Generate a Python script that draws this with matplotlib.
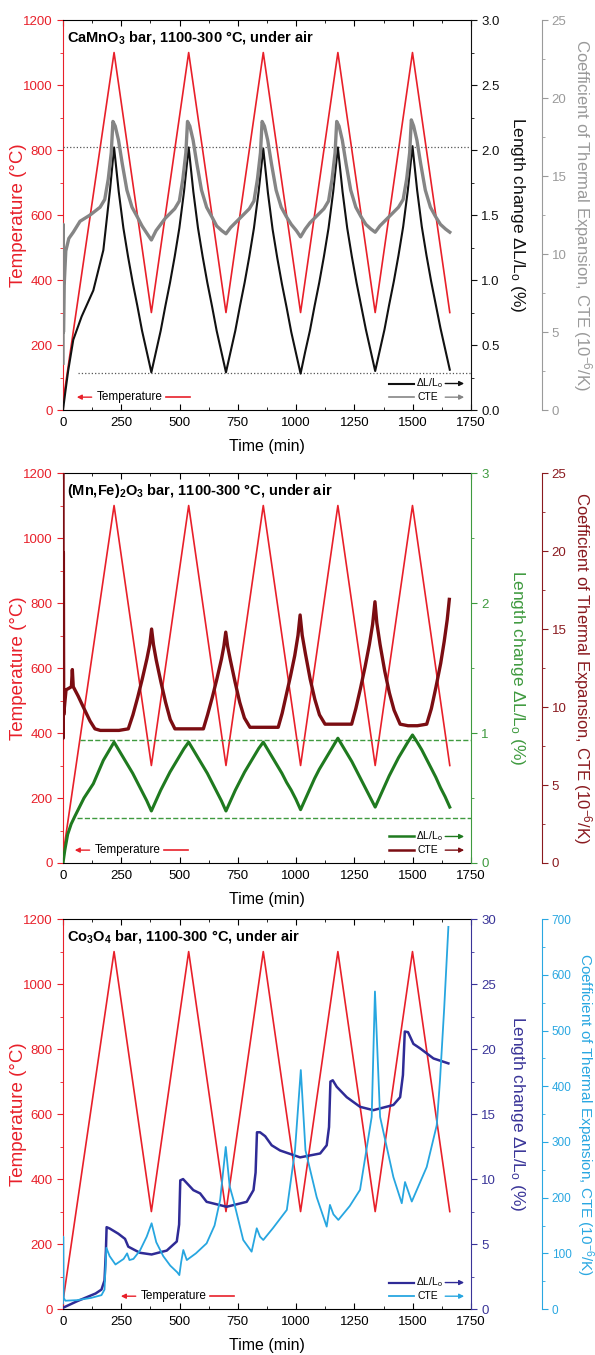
import matplotlib
matplotlib.use('Agg')
import matplotlib.pyplot as plt
from matplotlib.ticker import MultipleLocator, FormatStrFormatter

plt.rcParams['font.family'] = ['Liberation Sans', 'DejaVu Sans']
plt.rcParams['mathtext.fontset'] = 'custom'
plt.rcParams['mathtext.rm'] = 'Liberation Sans'
plt.rcParams['mathtext.it'] = 'Liberation Sans:italic'
plt.rcParams['mathtext.bf'] = 'Liberation Sans:bold'

# ---- temperature programme (same for all three bars) ----
time_T = [0, 219, 379, 539, 699, 859, 1019, 1179, 1339, 1499, 1659]
temp = [25, 1100, 300, 1100, 300, 1100, 300, 1100, 300, 1100, 300]

# common time grid used for the cyclic part of the length-change curves
t_cycle = [239, 259, 279, 299, 319, 339, 359, 379,
           399, 419, 439, 459, 479, 499, 519, 539,
           559, 579, 599, 619, 639, 659, 679, 699,
           719, 739, 759, 779, 799, 819, 839, 859,
           879, 899, 919, 939, 959, 979, 999, 1019,
           1039, 1059, 1079, 1099, 1119, 1139, 1159, 1179,
           1199, 1219, 1239, 1259, 1279, 1299, 1319, 1339,
           1359, 1379, 1399, 1419, 1439, 1459, 1479, 1499,
           1519, 1539, 1559, 1579, 1599, 1619, 1639, 1659]

# ---- CaMnO3 ----
t_dl1 = [0, 10, 22, 44, 80, 130, 173, 202, 219] + t_cycle
dl1 = [0.00, 0.14, 0.30, 0.54, 0.72, 0.92, 1.23, 1.70, 2.02,
       1.68, 1.40, 1.18, 0.98, 0.80, 0.61, 0.45, 0.29,
       0.45, 0.61, 0.80, 0.98, 1.18, 1.40, 1.68, 2.02,
       1.68, 1.40, 1.18, 0.98, 0.80, 0.61, 0.45, 0.29,
       0.45, 0.61, 0.80, 0.98, 1.18, 1.40, 1.68, 2.01,
       1.67, 1.39, 1.17, 0.97, 0.79, 0.60, 0.44, 0.28,
       0.45, 0.61, 0.80, 0.98, 1.18, 1.40, 1.68, 2.02,
       1.68, 1.40, 1.18, 0.98, 0.80, 0.62, 0.46, 0.30,
       0.46, 0.62, 0.81, 0.99, 1.19, 1.41, 1.69, 2.03,
       1.69, 1.41, 1.19, 0.99, 0.81, 0.63, 0.47, 0.31]
t_cte1 = [0, 1, 2, 5, 12, 25, 44, 73, 116, 159, 179, 194, 207, 214,
          224, 238, 254, 274, 296, 318, 339, 361, 379,
          399, 419, 439, 459, 479, 499, 514, 527, 534,
          544, 558, 574, 594, 616, 638, 659, 681, 699,
          719, 739, 759, 779, 799, 819, 834, 847, 854,
          864, 878, 894, 914, 936, 958, 979, 1001, 1019,
          1039, 1059, 1079, 1099, 1119, 1139, 1154, 1167, 1174,
          1184, 1198, 1214, 1234, 1256, 1278, 1299, 1321, 1339,
          1359, 1379, 1399, 1419, 1439, 1459, 1474, 1487, 1494,
          1504, 1518, 1534, 1554, 1576, 1598, 1619, 1641, 1659]
cte1 = [3.0, 11.9, 5.0, 8.0, 10.2, 11.0, 11.4, 12.1, 12.5, 13.0, 13.5, 14.8, 16.5, 18.5,
        18.2, 17.3, 15.8, 14.1, 13.0, 12.4, 11.8, 11.3, 10.9,
        11.5, 11.9, 12.3, 12.6, 12.9, 13.4, 14.8, 16.5, 18.5,
        18.2, 17.3, 15.8, 14.1, 13.0, 12.4, 11.8, 11.5, 11.3,
        11.7, 12.0, 12.3, 12.6, 12.9, 13.4, 14.8, 16.5, 18.5,
        18.2, 17.3, 15.8, 14.1, 13.0, 12.4, 11.9, 11.5, 11.1,
        11.6, 12.0, 12.3, 12.6, 12.9, 13.4, 14.8, 16.5, 18.5,
        18.2, 17.3, 15.8, 14.1, 13.0, 12.4, 11.9, 11.6, 11.4,
        11.8, 12.1, 12.4, 12.7, 13.0, 13.5, 14.8, 16.5, 18.6,
        18.2, 17.3, 15.8, 14.1, 13.0, 12.4, 11.9, 11.6, 11.4]
ref1_hi, ref1_lo = 2.02, 0.285

# ---- (Mn,Fe)2O3 ----
t_dl2 = [0, 8, 20, 35, 51, 90, 130, 173, 219] + t_cycle
dl2 = [0.00, 0.10, 0.22, 0.30, 0.36, 0.50, 0.61, 0.79, 0.93,
       0.87, 0.81, 0.75, 0.69, 0.62, 0.55, 0.48, 0.40,
       0.48, 0.56, 0.63, 0.70, 0.76, 0.82, 0.88, 0.93,
       0.87, 0.81, 0.75, 0.69, 0.62, 0.55, 0.48, 0.40,
       0.48, 0.56, 0.63, 0.70, 0.76, 0.82, 0.88, 0.93,
       0.87, 0.81, 0.75, 0.69, 0.62, 0.56, 0.49, 0.41,
       0.49, 0.57, 0.65, 0.72, 0.78, 0.84, 0.90, 0.96,
       0.90, 0.84, 0.78, 0.71, 0.64, 0.57, 0.50, 0.43,
       0.51, 0.59, 0.67, 0.74, 0.81, 0.87, 0.93, 0.985,
       0.93, 0.87, 0.80, 0.73, 0.66, 0.58, 0.51, 0.43]
t_cte2 = [0, 0.5, 1.5, 3, 8.6, 13, 25, 36, 40, 44, 65, 87, 116, 137, 160, 200, 240, 280,
          300, 320, 340, 360, 372, 380, 388, 400, 420, 440, 460, 480, 520, 560, 602,
          620, 640, 660, 680, 690, 698, 706, 718, 738, 758, 778, 802, 840, 880, 923,
          940, 958, 976, 994, 1008, 1017, 1026, 1040, 1060, 1080, 1100, 1124, 1160, 1200, 1238,
          1256, 1276, 1296, 1314, 1328, 1338, 1346, 1360, 1380, 1400, 1420, 1446, 1480, 1520, 1560,
          1580, 1600, 1620, 1635, 1648, 1657]
cte2 = [30, 8.0, 19.9, 9.5, 10.4, 11.1, 11.2, 11.3, 12.4, 11.3, 10.7, 10.0, 9.1, 8.6, 8.5, 8.5, 8.5, 8.6,
        9.5, 10.6, 11.8, 13.1, 14.0, 15.0, 14.0, 13.0, 11.6, 10.3, 9.2, 8.6, 8.6, 8.6, 8.6,
        9.5, 10.6, 11.8, 13.1, 13.9, 14.8, 13.9, 13.0, 11.6, 10.3, 9.3, 8.7, 8.7, 8.7, 8.7,
        9.6, 10.8, 12.0, 13.3, 14.6, 15.9, 14.6, 13.4, 11.8, 10.5, 9.5, 8.9, 8.9, 8.9, 8.9,
        9.9, 11.2, 12.6, 14.0, 15.3, 16.75, 15.4, 14.0, 12.3, 10.9, 9.8, 8.9, 8.8, 8.8, 8.9,
        9.9, 11.3, 12.8, 14.2, 15.6, 16.9]
ref2_hi, ref2_lo = 0.946, 0.35

# ---- Co3O4 ----
t_dl3 = [0, 30, 60, 100, 140, 165, 178, 184, 187, 200, 237, 266, 280, 330, 380, 445, 488, 498,
         503, 515, 559, 588, 616, 702, 788, 817, 826, 832, 845, 867, 895, 931, 1017, 1103, 1131,
         1141, 1147, 1157, 1174, 1217, 1274, 1331, 1417, 1446, 1458, 1466, 1480, 1503, 1532, 1589, 1653]
dl3 = [0.1, 0.35, 0.6, 0.9, 1.2, 1.5, 2.2, 4.5, 6.3, 6.2, 5.8, 5.4, 4.8, 4.33, 4.2, 4.5, 5.2, 6.5,
       9.9, 10.0, 9.15, 8.9, 8.25, 7.87, 8.25, 9.15, 10.5, 13.6, 13.6, 13.3, 12.6, 12.2, 11.67, 11.97, 12.6,
       14.0, 17.5, 17.6, 17.1, 16.3, 15.56, 15.3, 15.7, 16.3, 18.0, 21.35, 21.3, 20.4, 20.05, 19.28, 18.9]
t_cte3 = [0, 1, 3, 10, 60, 120, 165, 178, 186, 200, 225, 260, 275, 285, 302, 330, 359, 380, 400, 430,
          460, 490, 499, 507, 516, 531, 570, 616, 650, 674, 698, 715, 731, 773, 809, 831, 845, 859, 900, 960,
          995, 1020, 1040, 1088, 1131, 1145, 1160, 1181, 1230, 1274, 1324, 1338, 1360, 1417, 1453, 1467,
          1496, 1560, 1603, 1617, 1635, 1653]
cte3 = [10, 130, 20, 15, 16, 20, 25, 35, 110, 95, 80, 90, 100, 88, 90, 105, 130, 154, 120, 95,
        78, 66, 61, 85, 106, 88, 100, 118, 150, 196, 291, 220, 196, 124, 103, 145, 130, 124, 145, 178,
        285, 429, 285, 201, 148, 187, 170, 160, 185, 214, 345, 570, 345, 237, 190, 228,
        193, 255, 330, 411, 540, 686]

red = '#e8202a'

fig = plt.figure(figsize=(5.95, 13.55), dpi=100)
L, W, H = 0.1059, 0.6857, 0.2878


def make_panel(bottom, title, c_dl, c_cte, dl_lim, dl_major, dl_minor, dl_fmt,
               cte_lim, cte_major, cte_minor, dl_label_color, cte_label_color,
               cte_label_x=1.272, cte_label_size=12, cte_tick_size=9.5):
    ax = fig.add_axes([L, bottom, W, H])
    ax.plot(time_T, temp, color=red, lw=1.2)
    ax.set_xlim(0, 1750)
    ax.set_ylim(0, 1200)
    ax.xaxis.set_major_locator(MultipleLocator(250))
    ax.xaxis.set_minor_locator(MultipleLocator(125))
    ax.yaxis.set_major_locator(MultipleLocator(200))
    ax.yaxis.set_minor_locator(MultipleLocator(100))
    ax.tick_params(axis='x', which='both', direction='in', top=True, labelsize=9.5, pad=5)
    ax.tick_params(axis='x', which='major', length=4)
    ax.tick_params(axis='x', which='minor', length=2)
    ax.tick_params(axis='y', which='both', direction='out', colors=red, labelsize=9.5)
    ax.tick_params(axis='y', which='major', length=4)
    ax.tick_params(axis='y', which='minor', length=2)
    ax.spines['left'].set_color(red)
    ax.spines['right'].set_visible(False)
    ax.set_ylabel('Temperature (°C)', color=red, fontsize=13.5, va='center')
    ax.yaxis.set_label_coords(-0.108, 0.5)
    ax.set_xlabel('Time (min)', fontsize=11.5, labelpad=7)
    ax.text(0.01, 0.978, title, transform=ax.transAxes, fontsize=10.5, fontweight='bold',
            va='top', ha='left')

    ax2 = ax.twinx()
    ax2.set_ylim(*dl_lim)
    ax2.yaxis.set_major_locator(MultipleLocator(dl_major))
    ax2.yaxis.set_minor_locator(MultipleLocator(dl_minor))
    ax2.yaxis.set_major_formatter(FormatStrFormatter(dl_fmt))
    ax2.tick_params(axis='y', which='both', direction='out', colors=c_dl, labelsize=9.5)
    ax2.tick_params(axis='y', which='major', length=4)
    ax2.tick_params(axis='y', which='minor', length=2)
    for s in ['left', 'top', 'bottom']:
        ax2.spines[s].set_visible(False)
    ax2.spines['right'].set_color(c_dl)
    ax2.set_ylabel('Length change ΔL/L$_\\mathrm{o}$ (%)', color=dl_label_color, fontsize=12.5,
                   rotation=270, va='center')
    ax2.yaxis.set_label_coords(1.113, 0.5)

    ax3 = ax.twinx()
    ax3.spines['right'].set_position(('axes', 1.174))
    ax3.set_ylim(*cte_lim)
    ax3.yaxis.set_major_locator(MultipleLocator(cte_major))
    ax3.yaxis.set_minor_locator(MultipleLocator(cte_minor))
    ax3.tick_params(axis='y', which='both', direction='out', colors=c_cte,
                    labelsize=cte_tick_size, pad=3)
    ax3.tick_params(axis='y', which='major', length=4)
    ax3.tick_params(axis='y', which='minor', length=2)
    for s in ['left', 'top', 'bottom']:
        ax3.spines[s].set_visible(False)
    ax3.spines['right'].set_color(c_cte)
    ax3.set_ylabel('Coefficient of Thermal Expansion, CTE (10$^{-6}$/K)', color=cte_label_color,
                   fontsize=cte_label_size, rotation=270, va='center')
    ax3.yaxis.set_label_coords(cte_label_x, 0.5)
    return ax, ax2, ax3


def keys(ax, x_temp, c_dl, c_cte, lw_dl, lw_cte):
    y1, y2 = 0.068, 0.033
    ax.plot([0.80, 0.86], [y1, y1], transform=ax.transAxes, color=c_dl, lw=lw_dl)
    ax.text(0.865, y1, 'ΔL/L$_\\mathrm{o}$', transform=ax.transAxes, fontsize=7.5, va='center')
    ax.annotate('', xy=(0.99, y1), xytext=(0.93, y1), xycoords='axes fraction',
                arrowprops=dict(arrowstyle='-|>', color=c_dl, lw=1.0, mutation_scale=7))
    ax.plot([0.80, 0.86], [y2, y2], transform=ax.transAxes, color=c_cte, lw=lw_cte)
    ax.text(0.87, y2, 'CTE', transform=ax.transAxes, fontsize=7.5, va='center')
    ax.annotate('', xy=(0.99, y2), xytext=(0.93, y2), xycoords='axes fraction',
                arrowprops=dict(arrowstyle='-|>', color=c_cte, lw=1.0, mutation_scale=7))
    # temperature key (arrow to the left axis)
    ax.annotate('', xy=(x_temp, y2), xytext=(x_temp + 0.05, y2), xycoords='axes fraction',
                arrowprops=dict(arrowstyle='-|>', color=red, lw=1.0, mutation_scale=7))
    ax.text(x_temp + 0.056, y2, 'Temperature', transform=ax.transAxes, fontsize=8.5, va='center')
    ax.plot([x_temp + 0.225, x_temp + 0.285], [y2, y2], transform=ax.transAxes, color=red, lw=1.2)


# panel 1: CaMnO3
a1, b1, c1 = make_panel(0.6974, 'CaMnO$_\\mathbf{3}$ bar, 1100-300 °C, under air',
                        '#111111', '#9a9a9a', (0, 3.0), 0.5, 0.25, '%.1f',
                        (0, 25), 5, 2.5, '#111111', '#9a9a9a')
b1.plot([0, 1750], [ref1_hi, ref1_hi], ls=':', color='#555555', lw=0.9)
b1.plot([65, 1750], [ref1_lo, ref1_lo], ls=':', color='#555555', lw=0.9)
b1.plot(t_dl1, dl1, color='#111111', lw=1.5)
c1.plot(t_cte1, cte1, color='#858585', lw=2.4)
keys(c1, 0.027, '#111111', '#858585', 1.5, 1.2)

# panel 2: (Mn,Fe)2O3
a2, b2, c2 = make_panel(0.3631, '(Mn,Fe)$_\\mathbf{2}$O$_\\mathbf{3}$ bar, 1100-300 °C, under air',
                        '#3f9a3f', '#8a1a1f', (0, 3), 1, 0.5, '%d',
                        (0, 25), 5, 2.5, '#3f9a3f', '#8a1a1f')
b2.plot([73, 1750], [ref2_hi, ref2_hi], ls='--', color='#3f9a3f', lw=1.0)
b2.plot([60, 1750], [ref2_lo, ref2_lo], ls='--', color='#3f9a3f', lw=1.0)
b2.plot(t_dl2, dl2, color='#1f7a1f', lw=2.2)
c2.plot(t_cte2, cte2, color='#7b0d12', lw=2.4)
keys(c2, 0.022, '#1f7a1f', '#7b0d12', 1.8, 1.8)

# panel 3: Co3O4
a3, b3, c3 = make_panel(0.0339, 'Co$_\\mathbf{3}$O$_\\mathbf{4}$ bar, 1100-300 °C, under air',
                        '#3a3598', '#2aa7e1', (0, 30), 5, 2.5, '%d',
                        (0, 700), 100, 50, '#3a3598', '#2aa7e1',
                        cte_label_x=1.279, cte_label_size=11, cte_tick_size=8.5)
b3.plot(t_dl3, dl3, color='#2f2b96', lw=1.8)
c3.plot(t_cte3, cte3, color='#27a6e0', lw=1.3)
keys(c3, 0.135, '#2f2b96', '#27a6e0', 1.6, 1.3)

plt.savefig('out.png', dpi=100)
